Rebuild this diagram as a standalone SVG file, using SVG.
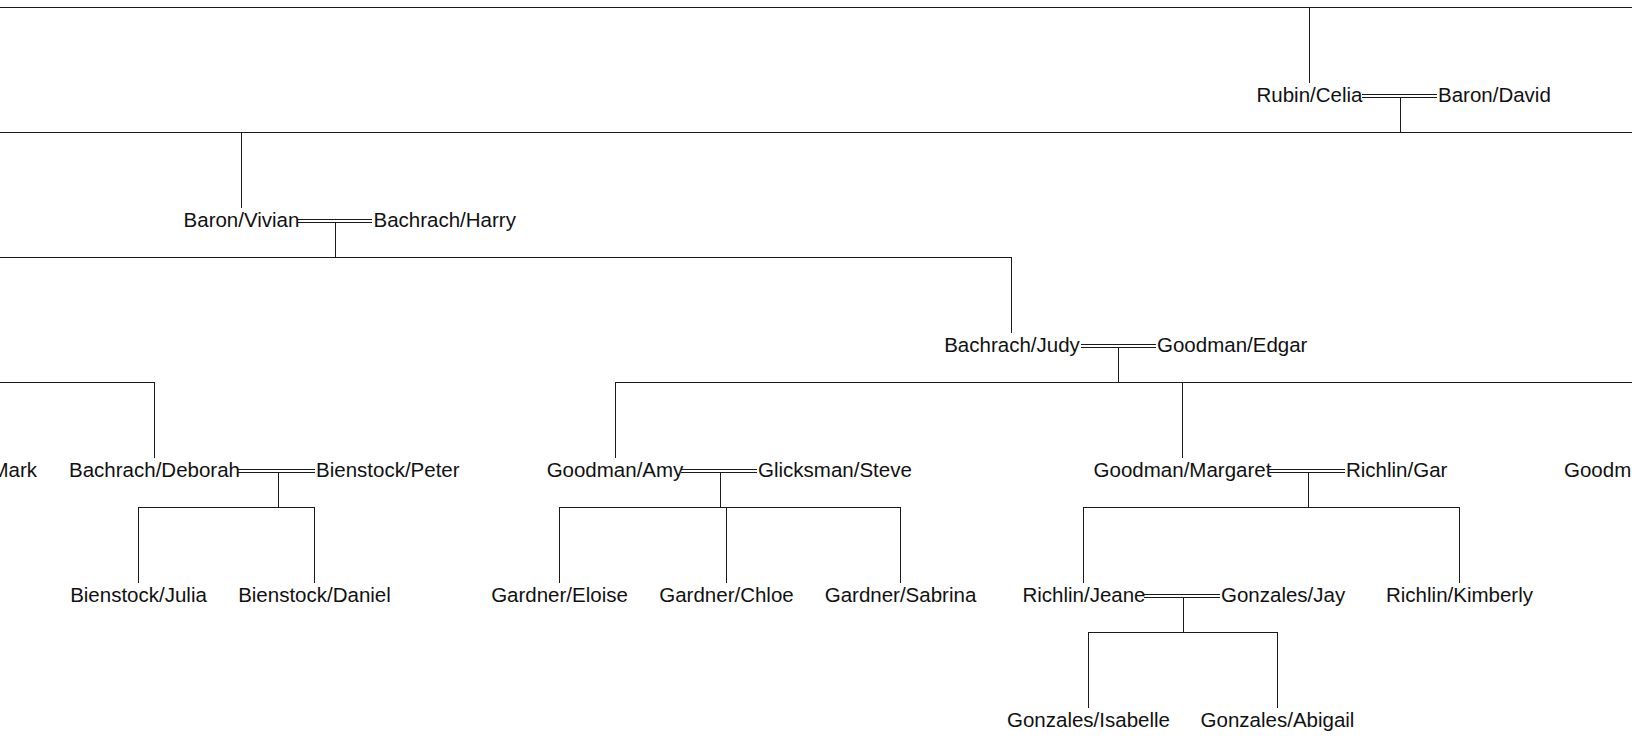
<svg xmlns="http://www.w3.org/2000/svg" width="1632" height="740" viewBox="0 0 1632 740">
<style>
.c{stroke:#1a1a1a;stroke-width:1;fill:none;shape-rendering:crispEdges}
text{font-family:"Liberation Sans",Arial,sans-serif;font-size:20.5px;fill:#111}
.m{text-anchor:middle}
.e{text-anchor:end}
</style>
<rect width="1632" height="740" fill="#fff"/>
<g id="connectors" class="c">
<path d="M0 7.5H1632M1309.5 7.5V83"/>
<path d="M1362 94.5H1437M1362 97.5H1437M1400.5 97.5V132.5"/>
<path d="M0 132.5H1632M241.5 132.5V208"/>
<path d="M298 219.5H372M298 222.5H372M335.5 222.5V257.5"/>
<path d="M0 257.5H1011.5V333"/>
<path d="M1080.5 344.5H1156M1080.5 347.5H1156M1118.5 347.5V382.5"/>
<path d="M0 382.5H154.5V458"/>
<path d="M615.5 458V382.5H1632M1182.5 382.5V458"/>
<path d="M238 469.5H315M238 472.5H315M278.5 472.5V507.5"/>
<path d="M138.5 583V507.5H314.5V583"/>
<path d="M681 469.5H757M681 472.5H757M720.5 472.5V507.5"/>
<path d="M559.5 583V507.5H900.5V583M726.5 507.5V583"/>
<path d="M1269 469.5H1345M1269 472.5H1345M1308.5 472.5V507.5"/>
<path d="M1083.5 583V507.5H1459.5V583"/>
<path d="M1144 594.5H1220M1144 597.5H1220M1183.5 597.5V632.5"/>
<path d="M1088.5 708V632.5H1277.5V708"/>
</g>
<g id="n-rubin-celia"><text class="m" x="1309.5" y="102">Rubin/Celia</text></g>
<g id="n-baron-david"><text x="1438" y="102">Baron/David</text></g>
<g id="n-baron-vivian"><text class="m" x="241.5" y="227">Baron/Vivian</text></g>
<g id="n-bachrach-harry"><text x="373.5" y="227">Bachrach/Harry</text></g>
<g id="n-bachrach-judy"><text class="m" x="1012" y="352">Bachrach/Judy</text></g>
<g id="n-goodman-edgar"><text x="1157" y="352">Goodman/Edgar</text></g>
<g id="n-mark"><text class="e" x="37" y="477">Mark</text></g>
<g id="n-bachrach-deborah"><text class="m" x="154.5" y="477">Bachrach/Deborah</text></g>
<g id="n-bienstock-peter"><text x="316" y="477">Bienstock/Peter</text></g>
<g id="n-goodman-amy"><text class="m" x="615" y="477">Goodman/Amy</text></g>
<g id="n-glicksman-steve"><text x="758" y="477">Glicksman/Steve</text></g>
<g id="n-goodman-margaret"><text class="m" x="1182.5" y="477">Goodman/Margaret</text></g>
<g id="n-richlin-gar"><text x="1346" y="477">Richlin/Gar</text></g>
<g id="n-goodm"><text x="1564" y="477">Goodm</text></g>
<g id="n-bienstock-julia"><text class="m" x="138.5" y="602">Bienstock/Julia</text></g>
<g id="n-bienstock-daniel"><text class="m" x="314.5" y="602">Bienstock/Daniel</text></g>
<g id="n-gardner-eloise"><text class="m" x="559.5" y="602">Gardner/Eloise</text></g>
<g id="n-gardner-chloe"><text class="m" x="726.5" y="602">Gardner/Chloe</text></g>
<g id="n-gardner-sabrina"><text class="m" x="900.5" y="602">Gardner/Sabrina</text></g>
<g id="n-richlin-jeane"><text class="m" x="1084" y="602">Richlin/Jeane</text></g>
<g id="n-gonzales-jay"><text x="1221" y="602">Gonzales/Jay</text></g>
<g id="n-richlin-kimberly"><text class="m" x="1459.5" y="602">Richlin/Kimberly</text></g>
<g id="n-gonzales-isabelle"><text class="m" x="1088.5" y="727">Gonzales/Isabelle</text></g>
<g id="n-gonzales-abigail"><text class="m" x="1277.5" y="727">Gonzales/Abigail</text></g>
</svg>
